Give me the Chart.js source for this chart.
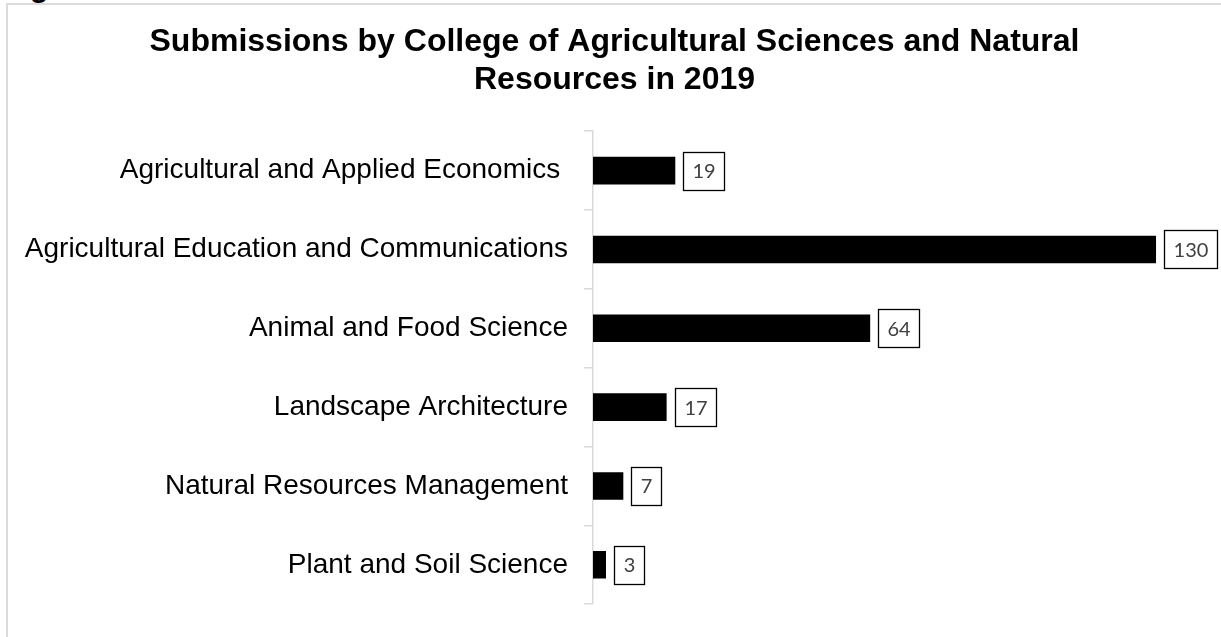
<!DOCTYPE html>
<html>
<head>
<meta charset="utf-8">
<script src="https://cdn.jsdelivr.net/npm/chart.js@4/dist/chart.umd.min.js"></script>
<style>
  html, body { margin: 0; padding: 0; background: #fff; overflow: hidden; }
  #wrap { position: relative; width: 1221px; height: 637px; }
  #frame { position: absolute; left: 6px; top: 3px; width: 1240px; height: 700px;
           border-left: 2px solid #dcdcdc; border-top: 2px solid #dcdcdc; }
  #frag { position: absolute; left: 30px; top: -28px; font: bold 30px "Liberation Sans", Arial, sans-serif;
          line-height: 30px; color: #000; white-space: nowrap; }
  #c { position: absolute; left: 0; top: 0; }
</style>
</head>
<body>
<div id="wrap">
  <div id="frag">g</div>
  <div id="frame"></div>
  <canvas id="c" width="1221" height="637"></canvas>
</div>
<script>
const titleLines = ["Submissions by College of Agricultural Sciences and Natural", "Resources in 2019"];
const categories = [
  "Agricultural and Applied Economics ",
  "Agricultural Education and Communications",
  "Animal and Food Science",
  "Landscape Architecture",
  "Natural Resources Management",
  "Plant and Soil Science"
];
const submissions = [19, 130, 64, 17, 7, 3];

const labelBoxes = {
  id: 'labelBoxes',
  afterDatasetsDraw(chart) {
    const ctx = chart.ctx;
    const meta = chart.getDatasetMeta(0);
    ctx.save();
    ctx.font = '20px Lato, "Open Sans", sans-serif';
    ctx.textBaseline = 'middle';
    ctx.textAlign = 'center';
    meta.data.forEach((bar, i) => {
      const txt = String(submissions[i]);
      const tw = ctx.measureText(txt).width;
      const w = Math.round(tw + 18);
      const h = 38;
      const x = Math.round(bar.x + 8) + 0.5;
      const y = Math.round(bar.y - h / 2) + 0.5;
      ctx.fillStyle = '#fff';
      ctx.fillRect(x, y, w, h);
      ctx.strokeStyle = '#000';
      ctx.lineWidth = 1.3;
      ctx.strokeRect(x, y, w, h);
      ctx.fillStyle = '#404040';
      ctx.fillText(txt, x + w / 2, bar.y + 1);
    });
    ctx.restore();
  }
};

new Chart(document.getElementById('c'), {
  type: 'bar',
  data: {
    labels: categories,
    datasets: [{
      data: submissions,
      backgroundColor: '#000',
      borderWidth: 0,
      categoryPercentage: 1,
      barPercentage: 0.35
    }]
  },
  options: {
    indexAxis: 'y',
    responsive: false,
    animation: false,
    devicePixelRatio: 1,
    layout: { padding: { left: 8, right: 0, top: 0, bottom: 26 } },
    plugins: {
      legend: { display: false },
      tooltip: { enabled: false },
      title: {
        display: true,
        text: titleLines,
        color: '#000',
        font: { family: '"Liberation Sans", Arial, sans-serif', size: 32, weight: 'bold', lineHeight: 1.16 },
        padding: { top: 24, bottom: 33 }
      }
    },
    scales: {
      x: {
        display: false,
        min: 0,
        max: 145
      },
      y: {
        afterFit(scale) { scale.width = 585; },
        grid: {
          display: true,
          drawOnChartArea: false,
          drawTicks: true,
          tickLength: 9,
          color: '#d9d9d9',
          lineWidth: 1.5,
          offset: true
        },
        border: { display: true, color: '#d9d9d9', width: 1.5 },
        ticks: {
          color: '#000',
          padding: 16,
          font: { family: '"Liberation Sans", Arial, sans-serif', size: 28 }
        }
      }
    }
  },
  plugins: [labelBoxes]
});
</script>
</body>
</html>
